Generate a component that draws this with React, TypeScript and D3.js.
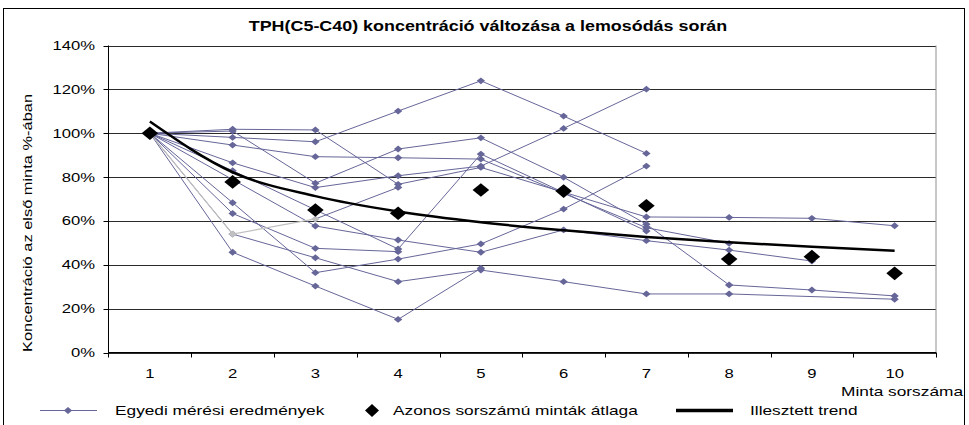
import React from "react";
import * as d3 from "d3";

const title = "TPH(C5-C40) koncentráció változása a lemosódás során";
const yAxisTitle = "Koncentráció az első minta %-ában";
const xAxisTitle = "Minta sorszáma";
const categories = ["1", "2", "3", "4", "5", "6", "7", "8", "9", "10"];
const yTicks = [0, 20, 40, 60, 80, 100, 120, 140];

// individual measurement series (% of first sample); null = missing sample (Excel connects across)
const seriesA = [100, 98.1, 96.1, 110.1, 123.9, 107.8, 90.8];
const seriesB = [100, 101.8, 101.5, 76.7, 84.4, null, 61.8, 61.6, 61.2, 57.8];
const seriesC = [100, 101.0, 77.2, 92.8, 97.9, 79.9, 58.5, 30.8, 28.5, 25.8];
const seriesD = [100, 94.6, 89.3, 88.8, 88.2, null, 56.9, 49.8];
const seriesE = [100, 86.5, 75.2, 80.6, 85.0, 102.2, 120.1];
const seriesF = [100, 82.9, null, 47.2, 90.5, null, 55.4];
const seriesG = [100, null, 57.7, 51.3, 45.7, 55.9, 51.0, 46.7, 41.7];
const seriesH = [100, 68.3, 36.4, 42.6, 49.5, 65.4, 85.0];
const seriesI = [100, 63.4, 47.5, 46.0];
const seriesJ = [100, 54.0, 43.2, 32.3, 37.6, 32.3, 26.7, 26.7, null, 24.3];
const seriesK = [100, 45.7, 30.3, 15.1, 38.4];
const seriesGrey = [100, 54.0, 60.9, 75.3];
const greySegmentCount = 2;

const averages = [100, 77.8, 65.0, 63.5, 74.1, 73.6, 66.9, 42.6, 43.7, 36.1];
const trend = [105.3, 82.2, 71.3, 64.3, 59.4, 55.7, 52.7, 50.3, 48.2, 46.4];

const individualSeries = [seriesA, seriesB, seriesC, seriesD, seriesE, seriesF, seriesG, seriesH, seriesI, seriesJ, seriesK];

const legendLabels = ["Egyedi mérési eredmények", "Azonos sorszámú minták átlaga", "Illesztett trend"];

const W = 969;
const H = 425;
const plot = { left: 108.5, right: 936, top: 45.5, bottom: 352.5 };
const BLUE = "#666699";
const GREY = "#c0c0c0";
const FONT = "'Liberation Sans', Arial, sans-serif";
const SX = 1.28; // horizontal stretch of the original picture

function diamond(cx: number, cy: number, rx: number, ry: number) {
  return `M${cx},${cy - ry}L${cx + rx},${cy}L${cx},${cy + ry}L${cx - rx},${cy}Z`;
}

function SText(props: { x: number; y: number; anchor?: string; size: number; bold?: boolean; children: string }) {
  return (
    <text
      transform={`translate(${props.x},${props.y}) scale(${SX},1)`}
      textAnchor={props.anchor || "start"}
      fontSize={props.size}
      fontWeight={props.bold ? "bold" : "normal"}
    >
      {props.children}
    </text>
  );
}

export default function App() {
  const x = d3.scaleBand<string>().domain(categories).range([plot.left, plot.right]).paddingInner(0).paddingOuter(0);
  const cx = (i: number) => (x(categories[i]) as number) + x.bandwidth() / 2;
  const y = d3.scaleLinear().domain([0, 140]).range([plot.bottom, plot.top]);

  const toPts = (s: (number | null)[]) =>
    s.map((v, i) => (v == null ? null : ([cx(i), y(v)] as [number, number]))).filter((p) => p != null) as [number, number][];

  const line = d3.line<[number, number]>();
  const trendLine = d3.line<[number, number]>().curve(d3.curveMonotoneX);

  const greyPts = toPts(seriesGrey);
  const mr = 3.8;

  return (
    <svg width={W} height={H} style={{ position: "absolute", left: 0, top: 0, background: "#fff" }} fontFamily={FONT}>
      {/* outer chart border */}
      <rect x={3.5} y={8.5} width={961} height={430} fill="none" stroke="#000" strokeWidth={1} />
      {/* title */}
      <SText x={488} y={31} anchor="middle" size={14} bold>{title}</SText>

      {/* gridlines */}
      {yTicks.map((t) => (
        <line key={t} x1={plot.left} x2={plot.right} y1={Math.round(y(t)) + 0.5} y2={Math.round(y(t)) + 0.5} stroke="#2a2a2a" strokeWidth={1} />
      ))}
      {/* right border of plot */}
      <line x1={plot.right} x2={plot.right} y1={plot.top} y2={plot.bottom} stroke="#909090" />

      {/* axes */}
      <line x1={plot.left} x2={plot.left} y1={plot.top} y2={plot.bottom + 5} stroke="#000" />
      <line x1={plot.left} x2={plot.right} y1={plot.bottom} y2={plot.bottom} stroke="#000" />
      {yTicks.map((t) => (
        <g key={"yt" + t}>
          <line x1={plot.left - 5} x2={plot.left} y1={Math.round(y(t)) + 0.5} y2={Math.round(y(t)) + 0.5} stroke="#000" />
          <SText x={95} y={y(t) + 4.5} anchor="end" size={13}>{`${t}%`}</SText>
        </g>
      ))}
      {categories.map((c, i) => (
        <g key={"xt" + c}>
          <line x1={Math.round((x(c) as number) + x.bandwidth()) + 0.5} x2={Math.round((x(c) as number) + x.bandwidth()) + 0.5} y1={plot.bottom} y2={plot.bottom + 5} stroke="#000" />
          <SText x={cx(i)} y={378} anchor="middle" size={13}>{c}</SText>
        </g>
      ))}
      <SText x={963} y={396} anchor="end" size={13.5}>{xAxisTitle}</SText>
      <text
        transform={`translate(32,223) scale(1.12,1) rotate(-90)`}
        textAnchor="middle"
        fontSize={12}
        textLength={258}
        lengthAdjust="spacingAndGlyphs"
      >
        {yAxisTitle}
      </text>

      {/* individual series */}
      {individualSeries.map((s, k) => {
        const pts = toPts(s);
        return (
          <g key={"s" + k}>
            <path d={line(pts) || ""} fill="none" stroke={BLUE} strokeWidth={1} />
            {pts.map((p, j) => (
              <path key={j} d={diamond(p[0], p[1], mr * 1.1, mr * 0.9)} fill={BLUE} />
            ))}
          </g>
        );
      })}
      {/* grey highlighted series */}
      <g>
        <path d={line(greyPts.slice(greySegmentCount)) || ""} fill="none" stroke={BLUE} strokeWidth={1} />
        <path d={line(greyPts.slice(0, greySegmentCount + 1)) || ""} fill="none" stroke={GREY} strokeWidth={1.2} />
        {greyPts.map((p, j) => (
          <path key={j} d={diamond(p[0], p[1], mr * 1.1, mr * 0.9)} fill={j > 0 && j <= greySegmentCount ? GREY : BLUE} />
        ))}
      </g>

      {/* trend */}
      <path d={trendLine(trend.map((v, i) => [cx(i), y(v)] as [number, number])) || ""} fill="none" stroke="#000" strokeWidth={2.5} />

      {/* averages */}
      {averages.map((v, i) => (
        <path key={"a" + i} d={diamond(cx(i), y(v), 8.3, 6.8)} fill="#000" />
      ))}

      {/* legend */}
      <line x1={40} x2={97} y1={410.5} y2={410.5} stroke={BLUE} />
      <path d={diamond(68, 410.5, mr * 1.1, mr * 0.9)} fill={BLUE} />
      <SText x={115} y={415} size={13.5}>{legendLabels[0]}</SText>
      <path d={diamond(372, 410.5, 7, 6.5)} fill="#000" />
      <SText x={393} y={415} size={13.5}>{legendLabels[1]}</SText>
      <line x1={676} x2={733} y1={410.5} y2={410.5} stroke="#000" strokeWidth={3.5} />
      <SText x={750} y={415} size={13.5}>{legendLabels[2]}</SText>
    </svg>
  );
}
